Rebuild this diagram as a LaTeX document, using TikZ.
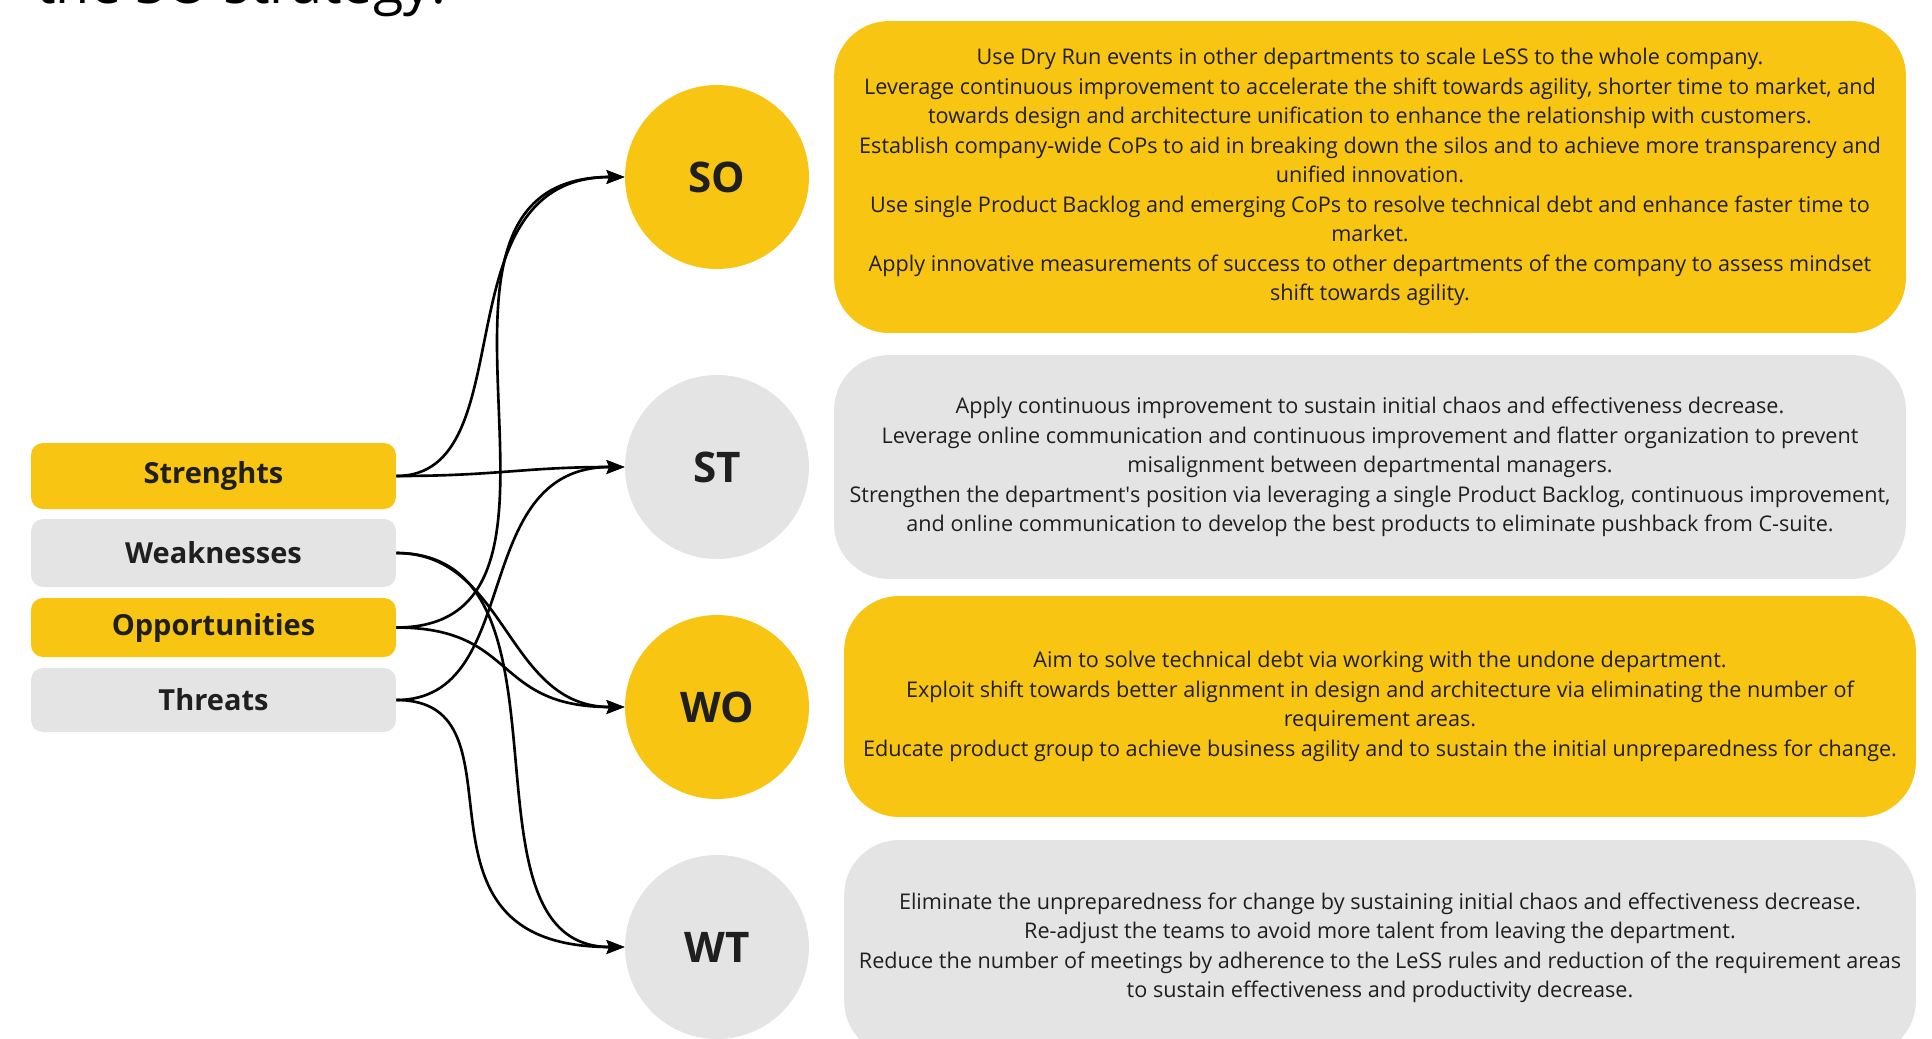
\documentclass[tikz,border=0pt]{standalone}
\usepackage{fontspec}
\setmainfont{Open Sans}
\usepackage{xcolor}
\definecolor{swotyellow}{HTML}{F8C512}
\definecolor{swotgrey}{HTML}{E4E4E4}
\definecolor{textdark}{HTML}{1F1F1F}
\usetikzlibrary{arrows.meta}

\tikzset{
  factor/.style={rounded corners=0.24cm, minimum width=7.3cm, inner sep=2pt, text=textdark, font=\bfseries\fontsize{16.5}{20}\selectfont},
  pair/.style={circle, minimum size=3.68cm, inner sep=0pt, text=textdark, font=\bfseries\fontsize{24}{28}\selectfont},
  plan/.style={rounded corners=1.1cm, minimum width=21.44cm, inner sep=2pt, align=center, text=textdark, font=\fontsize{12.3}{16.8}\selectfont},
  link/.style={black, line width=1.5pt, -{Stealth[length=0.36cm, width=0.27cm, inset=0.05cm]}}
}

\begin{document}
\begin{tikzpicture}[x=0.02cm, y=-0.02cm]
        \useasboundingbox (0,0) rectangle (1932,1038);
        % title, cut at the top
        \node[anchor=base west, inner sep=0pt, text=black, font=\fontsize{31.6}{38}\selectfont] (title) at (36,3) {the SO strategy:};
        % SWOT factors
        \node[factor, fill=swotyellow, minimum height=1.32cm] (S) at (213.5,476) {Strenghts};
        \node[factor, fill=swotgrey, minimum height=1.36cm] (W) at (213.5,553) {Weaknesses};
        \node[factor, fill=swotyellow, minimum height=1.18cm] (O) at (213.5,627.5) {Opportunities};
        \node[factor, fill=swotgrey, minimum height=1.28cm] (T) at (213.5,700) {Threats};
        % strategies
        \node[pair, fill=swotyellow] (SO) at (717,177) {SO};
        \node[pair, fill=swotgrey] (ST) at (717,467) {ST};
        \node[pair, fill=swotyellow] (WO) at (717,707) {WO};
        \node[pair, fill=swotgrey] (WT) at (717,947) {WT};
        % strategy texts
        \node[plan, fill=swotyellow, minimum height=6.24cm] (SOtext) at (1370,177) {Use Dry Run events in other departments to scale LeSS to the whole company.\\
          Leverage continuous improvement to accelerate the shift towards agility, shorter time to market, and\\
          towards design and architecture unification to enhance the relationship with customers.\\
          Establish company-wide CoPs to aid in breaking down the silos and to achieve more transparency and\\
          unified innovation.\\
          Use single Product Backlog and emerging CoPs to resolve technical debt and enhance faster time to\\
          market.\\
          Apply innovative measurements of success to other departments of the company to assess mindset\\
          shift towards agility.};
        \node[plan, fill=swotgrey, minimum height=4.48cm] (STtext) at (1370,467) {Apply continuous improvement to sustain initial chaos and effectiveness decrease.\\
          Leverage online communication and continuous improvement and flatter organization to prevent\\
          misalignment between departmental managers.\\
          Strengthen the department\textquotesingle s position via leveraging a single Product Backlog, continuous improvement,\\
          and online communication to develop the best products to eliminate pushback from C-suite.};
        \node[plan, fill=swotyellow, minimum height=4.42cm] (WOtext) at (1380,706.5) {Aim to solve technical debt via working with the undone department.\\
          Exploit shift towards better alignment in design and architecture via eliminating the number of\\
          requirement areas.\\
          Educate product group to achieve business agility and to sustain the initial unpreparedness for change.};
        \node[plan, fill=swotgrey, minimum height=4.32cm] (WTtext) at (1380,948) {Eliminate the unpreparedness for change by sustaining initial chaos and effectiveness decrease.\\
          Re-adjust the teams to avoid more talent from leaving the department.\\
          Reduce the number of meetings by adherence to the LeSS rules and reduction of the requirement areas\\
          to sustain effectiveness and productivity decrease.};
        % connectors
        \draw[link] (S.east) .. controls +(131,0) and +(-188,0) .. (SO.west);
        \draw[link] (O.east) .. controls +(225,0) and +(-252,0) .. (SO.west);
        \draw[link] (S.east) .. controls +(100,0) and +(-100,0) .. (ST.west);
        \draw[link] (T.east) .. controls +(129,0) and +(-158,0) .. (ST.west);
        \draw[link] (W.east) .. controls +(111,0) and +(-119,0) .. (WO.west);
        \draw[link] (O.east) .. controls +(122,0) and +(-133,0) .. (WO.west);
        \draw[link] (W.east) .. controls +(193,0) and +(-177,0) .. (WT.west);
        \draw[link] (T.east) .. controls +(140,0) and +(-236,0) .. (WT.west);
      \end{tikzpicture}
\end{document}
